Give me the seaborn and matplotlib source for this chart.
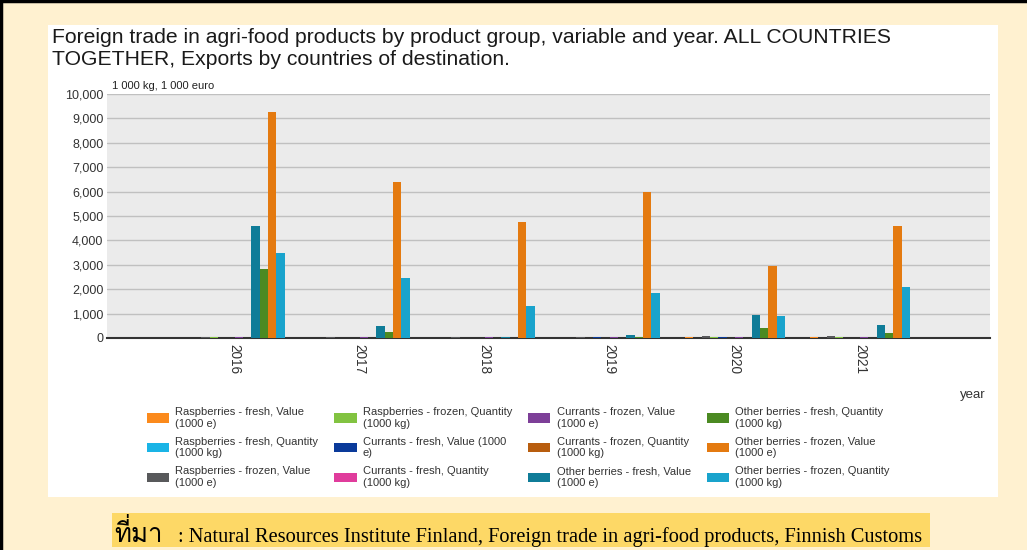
import numpy as np
import pandas as pd
import matplotlib
matplotlib.use("Agg")
import matplotlib.pyplot as plt
import seaborn as sns
from matplotlib import font_manager, ft2font
from matplotlib.patches import Rectangle
from matplotlib.lines import Line2D
from matplotlib.ticker import FuncFormatter, MultipleLocator

# ---------------- data ----------------
years = ["2016", "2017", "2018", "2019", "2020", "2021"]

series = [
    "Raspberries - fresh, Value (1000 e)",
    "Raspberries - fresh, Quantity (1000 kg)",
    "Raspberries - frozen, Value (1000 e)",
    "Raspberries - frozen, Quantity (1000 kg)",
    "Currants - fresh, Value (1000 e)",
    "Currants - fresh, Quantity (1000 kg)",
    "Currants - frozen, Value (1000 e)",
    "Currants - frozen, Quantity (1000 kg)",
    "Other berries - fresh, Value (1000 e)",
    "Other berries - fresh, Quantity (1000 kg)",
    "Other berries - frozen, Value (1000 e)",
    "Other berries - frozen, Quantity (1000 kg)",
]

legend_labels = [
    "Raspberries - fresh, Value\n(1000 e)",
    "Raspberries - fresh, Quantity\n(1000 kg)",
    "Raspberries - frozen, Value\n(1000 e)",
    "Raspberries - frozen, Quantity\n(1000 kg)",
    "Currants - fresh, Value (1000\ne)",
    "Currants - fresh, Quantity\n(1000 kg)",
    "Currants - frozen, Value\n(1000 e)",
    "Currants - frozen, Quantity\n(1000 kg)",
    "Other berries - fresh, Value\n(1000 e)",
    "Other berries - fresh, Quantity\n(1000 kg)",
    "Other berries - frozen, Value\n(1000 e)",
    "Other berries - frozen, Quantity\n(1000 kg)",
]

rasp_fresh_value = [0, 20, 0, 0, 30, 30]
rasp_fresh_qty = [0, 0, 0, 0, 20, 0]
rasp_frozen_value = [40, 30, 30, 30, 80, 100]
rasp_frozen_qty = [30, 20, 20, 20, 30, 30]
currants_fresh_value = [0, 0, 0, 30, 50, 0]
currants_fresh_qty = [0, 0, 0, 0, 0, 0]
currants_frozen_value = [30, 30, 30, 30, 30, 30]
currants_frozen_qty = [0, 20, 20, 0, 0, 20]
other_fresh_value = [4580, 500, 30, 120, 960, 540]
other_fresh_qty = [2830, 240, 0, 30, 420, 200]
other_frozen_value = [9250, 6400, 4740, 5980, 2960, 4580]
other_frozen_qty = [3500, 2450, 1320, 1830, 910, 2100]

values = [
    rasp_fresh_value, rasp_fresh_qty, rasp_frozen_value, rasp_frozen_qty,
    currants_fresh_value, currants_fresh_qty, currants_frozen_value, currants_frozen_qty,
    other_fresh_value, other_fresh_qty, other_frozen_value, other_frozen_qty,
]

colors = [
    "#fb8a1c", "#1ab4e6", "#58595b", "#82c341",
    "#0a3a9a", "#e03c9c", "#7d3f98", "#b85d0e",
    "#0f7c98", "#4b8a22", "#e47a10", "#19a3cc",
]

source_prefix = "ที่มา"
source_text = ": Natural Resources Institute Finland, Foreign trade in agri-food products, Finnish Customs"

df = pd.DataFrame(
    [(y, s, v) for s, vals in zip(series, values) for y, v in zip(years, vals)],
    columns=["year", "series", "value"],
)

# find an installed family that has Thai glyphs
thai_family = None
for fe in font_manager.fontManager.ttflist:
    try:
        cm = ft2font.FT2Font(fe.fname).get_charmap()
        if 0x0E17 in cm and 0x0E21 in cm and 0x0E32 in cm:
            thai_family = fe.name
            break
    except Exception:
        pass

# ---------------- figure ----------------
W, H = 1027, 550
BG = "#fff1d0"
fig = plt.figure(figsize=(W / 100, H / 100), dpi=100, facecolor=BG)


def fx(px):
    return px / W


def fy(py):
    return 1 - py / H


# white panel
fig.patches.append(Rectangle((fx(48), fy(497)), fx(998) - fx(48), fy(25) - fy(497),
                             transform=fig.transFigure, facecolor="white",
                             edgecolor="none", zorder=-5))
# black frame lines at top/left
fig.add_artist(Line2D([0, 1], [1 - 1 / H, 1 - 1 / H], transform=fig.transFigure,
                      color="black", lw=2.5))
fig.add_artist(Line2D([1 / W, 1 / W], [0, 1], transform=fig.transFigure,
                      color="black", lw=2.5))

sns.set_style("white")
plt.rcParams["font.family"] = ["Liberation Sans", "DejaVu Sans"]

ax = fig.add_axes([fx(107), fy(338), fx(990) - fx(107), fy(94) - fy(338)])
sns.barplot(data=df, x="year", y="value", hue="series", order=years,
            hue_order=series, palette=colors, width=0.8, saturation=1,
            ax=ax, legend=True, edgecolor="none", linewidth=0, zorder=3)

ax.set_facecolor("#ebebeb")
ax.set_xlim(-1.02, 6.04)
ax.set_ylim(0, 10000)
ax.yaxis.set_major_locator(MultipleLocator(1000))
ax.yaxis.set_major_formatter(FuncFormatter(lambda v, p: f"{int(v):,}"))
ax.grid(axis="y", color="#c0c0c0", linewidth=1.0, zorder=0)
ax.set_axisbelow(True)
for side in ["left", "right", "top"]:
    ax.spines[side].set_visible(False)
ax.spines["bottom"].set_color("#333333")
ax.spines["bottom"].set_linewidth(1.5)
ax.tick_params(axis="y", length=0, labelsize=9, labelcolor="#333333", pad=2.5)
ax.tick_params(axis="x", length=0, labelsize=9.8, labelcolor="#333333", pad=4,
               labelrotation=270)
ax.set_xlabel("")
ax.set_ylabel("")

handles, labels = ax.get_legend_handles_labels()
ax.get_legend().remove()
lab_map = dict(zip(series, legend_labels))
fig.legend(handles, [lab_map[l] for l in labels], ncol=4, frameon=False,
           loc="upper left", bbox_to_anchor=(fx(147), fy(407)),
           borderaxespad=0, borderpad=0, fontsize=8, handlelength=2.0,
           handleheight=0.9, handletextpad=0.55, columnspacing=1.45,
           labelspacing=0.72, labelcolor="#333333")

# texts
fig.text(fx(52), fy(28), "Foreign trade in agri-food products by product group, variable and year. ALL COUNTRIES\nTOGETHER, Exports by countries of destination.",
         ha="left", va="top", fontsize=15.2, color="#1a1a1a", linespacing=1.17)
fig.text(fx(112), fy(89), "1 000 kg, 1 000 euro", ha="left", va="baseline",
         fontsize=8, color="#222222")
fig.text(fx(986), fy(398), "year", ha="right", va="baseline", fontsize=9.5,
         color="#333333")

# source caption with highlight
fig.patches.append(Rectangle((fx(112), fy(547)), fx(930) - fx(112), fy(513) - fy(547),
                             transform=fig.transFigure, facecolor="#fdd866",
                             edgecolor="none", zorder=-5))
cap_fams = ["Liberation Serif"] + ([thai_family] if thai_family else []) + ["DejaVu Sans"]
fig.text(fx(114), fy(542), source_prefix, ha="left", va="baseline",
         fontsize=18.5, color="black", family=cap_fams)
fig.text(fx(178), fy(542), source_text, ha="left", va="baseline",
         fontsize=14.7, color="black", family=cap_fams)

fig.savefig("out.png", dpi=100, facecolor=BG)
